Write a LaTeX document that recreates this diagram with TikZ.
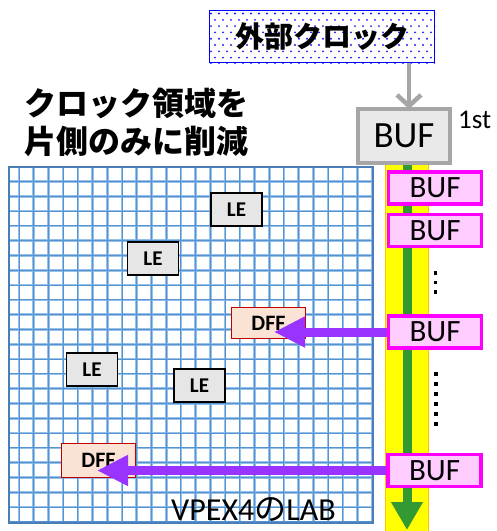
\documentclass[tikz,border=0pt]{standalone}
\usepackage{fontspec}
\setmainfont{Carlito}
\newfontfamily\cjk{Noto Sans CJK JP}
\usetikzlibrary{arrows.meta}
\definecolor{gridlight}{RGB}{150,192,232}
\definecolor{griddark}{RGB}{85,148,210}
\definecolor{gridedge}{RGB}{75,125,185}
\definecolor{dotblue}{RGB}{30,30,240}
\definecolor{clkblue}{RGB}{0,0,255}
\definecolor{bufgrey}{RGB}{166,166,166}
\definecolor{buffill}{RGB}{233,233,233}
\definecolor{pinkfill}{RGB}{255,204,255}
\definecolor{magentaline}{RGB}{255,0,255}
\definecolor{baryellow}{RGB}{255,255,0}
\definecolor{barorange}{RGB}{255,192,0}
\definecolor{greenline}{RGB}{51,153,51}
\definecolor{purplearrow}{RGB}{153,51,255}
\definecolor{dfffill}{RGB}{250,226,213}
\definecolor{dffline}{RGB}{192,0,0}
\definecolor{lefill}{RGB}{230,230,230}
\tikzset{
  pinkbuf/.style={draw=magentaline, line width=3.5pt, fill=pinkfill, minimum width=93pt, minimum height=32pt, inner sep=0pt, font=\fontsize{31}{31}\selectfont},
  lebox/.style={draw=black, line width=1.8pt, fill=lefill, minimum width=51pt, minimum height=33pt, inner sep=0pt, font=\fontsize{21}{21}\selectfont\bfseries},
  dffbox/.style={draw=dffline, line width=1.5pt, fill=dfffill, minimum width=74pt, minimum height=31pt, inner sep=0pt, font=\fontsize{22}{22}\selectfont\bfseries},
  purplearr/.style={draw=purplearrow, line width=9pt, -{Triangle[length=31pt,width=29pt]}},
}
\begin{document}
\begin{tikzpicture}[x=1pt,y=-1pt]
\useasboundingbox (0,0) rectangle (497,531);
\fill[white] (0,0) rectangle (497,531);
% grid
\begin{scope}
\clip (9,167) rectangle (373,523);
\foreach \i in {-1,...,25} { \draw[gridlight, line width=2.6pt] ({19+14.72*\i},160) -- ++(0,370); }
\foreach \j in {-1,...,24} { \draw[gridlight, line width=2.6pt] (0,{181.5+14.8*\j}) -- ++(380,0); }
\foreach \i in {-1,...,25} { \draw[griddark, line width=1pt] ({19+14.72*\i},160) -- ++(0,370); }
\foreach \j in {-1,...,24} { \draw[griddark, line width=1pt] (0,{181.5+14.8*\j}) -- ++(380,0); }
\end{scope}
\draw[gridedge, line width=2pt] (9,167) rectangle (373,523);
% yellow bar and green arrow
\fill[baryellow] (385,158) rectangle (428,533);
\draw[barorange, line width=1pt] (385,158) -- (385,533) (428,158) -- (428,533);
\coordinate (gtop) at (407,158);
\coordinate (gend) at (407,530);
\draw[greenline, line width=9pt, -{Triangle[length=28pt,width=30pt]}] (gtop) -- (gend);
% external clock box
\begin{scope}
\clip (209,10) rectangle (435,63);
\foreach \r in {0,...,8} { \foreach \c in {0,...,28} {
  \fill[dotblue] ({211+8*\c+4*mod(\r,2)},{13.5+6.3*\r}) circle[radius=1.05pt]; } }
\end{scope}
\node[draw=clkblue, line width=1.5pt, minimum width=225pt, minimum height=52pt, inner sep=0pt] (clk) at (322,36.5) {};
\node at (322,37) {\cjk\bfseries\fontsize{29}{29}\selectfont 外部クロック};
% first BUF
\node[draw=bufgrey, line width=4pt, fill=buffill, minimum width=92pt, minimum height=54pt, inner sep=0pt, font=\fontsize{37}{37}\selectfont] (buf0) at (404,136) {BUF};
\coordinate (arrtop) at (409,63);
\coordinate (arrbot) at (409,109);
\draw[bufgrey, line width=4.5pt, -{Straight Barb[length=11pt,width=24pt]}] (arrtop) -- (arrbot);
\node[anchor=west, inner sep=0pt, font=\fontsize{27}{27}\selectfont] (first) at (458,120) {1st};
% pink BUFs
\node[pinkbuf] (buf1) at (435,188) {BUF};
\node[pinkbuf] (buf2) at (435,230.5) {BUF};
\node[pinkbuf] (buf3) at (435,332) {BUF};
\node[pinkbuf] (buf4) at (434.5,470.5) {BUF};
% dots
\foreach \y in {273,282.5,292} { \fill[black] (433.8,{\y-1.8}) rectangle ++(3.6,3.6); }
\foreach \y in {374,384,394,404,414,424} { \fill[black] (434.3,{\y-1.8}) rectangle ++(3.6,3.6); }
% LE boxes
\node[lebox] (le1) at (236.5,209.5) {LE};
\node[lebox] (le2) at (153,258.5) {LE};
\node[lebox] (le3) at (92,369.5) {LE};
\node[lebox] (le4) at (199.5,385.5) {LE};
% DFF boxes
\node[dffbox] (dff1) at (268.5,323) {DFF};
\node[dffbox, minimum height=34pt] (dff2) at (98.5,460.5) {DFF};
% purple arrows
\coordinate (t1) at (274,332);
\coordinate (t2) at (97,470.5);
\draw[purplearr] (buf3.west) -- (t1);
\draw[purplearr] (buf4.west) -- (t2);
% texts
\node[anchor=west, inner sep=0pt] (title1) at (24,103) {\cjk\bfseries\fontsize{32}{32}\selectfont クロック領域を};
\node[anchor=west, inner sep=0pt] (title2) at (24,141) {\cjk\bfseries\fontsize{32}{32}\selectfont 片側のみに削減};
\node[anchor=base west, inner sep=0pt, font=\fontsize{32}{32}\selectfont] (lab) at (171,520) {VPEX4{\cjk の}LAB};
\end{tikzpicture}
\end{document}
